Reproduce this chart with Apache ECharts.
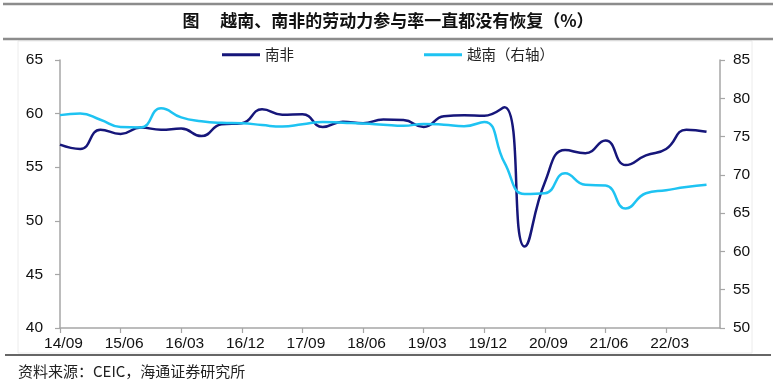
<!DOCTYPE html>
<html>
<head>
<meta charset="utf-8">
<script src="https://cdn.jsdelivr.net/npm/echarts@6/dist/echarts.min.js"></script>
<style>
html,body{margin:0;padding:0;background:#fff;}
#chart{width:777px;height:389px;}
</style>
</head>
<body>
<div id="chart"></div>
<script>
// Quarterly observations (YY/MM)
const quarterLabels = ['14/09','14/12','15/03','15/06','15/09','15/12','16/03','16/06','16/09','16/12',
  '17/03','17/06','17/09','17/12','18/03','18/06','18/09','18/12','19/03','19/06','19/09','19/12',
  '20/03','20/06','20/09','20/12','21/03','21/06','21/09','21/12','22/03','22/06','22/09'];
// 南非 (left axis)
const southAfrica = [57.1,56.7,58.5,58.1,58.7,58.5,58.6,57.9,59.0,59.1,
  60.4,59.9,59.95,58.75,59.25,59.1,59.45,59.4,58.75,59.75,59.85,59.8,
  60.6,47.6,53.6,56.6,56.3,57.5,55.2,56.1,56.7,58.5,58.3];
// 越南 (right axis)
const vietnam = [77.8,78.0,77.2,76.25,76.2,78.7,77.5,77.0,76.8,76.75,
  76.5,76.3,76.6,76.9,76.8,76.7,76.55,76.4,76.65,76.55,76.35,76.9,
  71.6,67.5,67.6,70.2,68.7,68.6,65.6,67.6,68.0,68.4,68.7];
// Axis tick labels shown
const tickLabels = ['14/09','15/06','16/03','16/12','17/09','18/06','19/03','19/12','20/09','21/06','22/03'];
const axisStart = '14/09', axisEnd = '22/11';
const seriesNames = ['南非','越南（右轴）'];

// monthly category axis
function buildMonths(a, b){
  let [ya, ma] = a.split('/').map(Number);
  const [yb, mb] = b.split('/').map(Number);
  const out = [];
  while (ya < yb || (ya === yb && ma <= mb)) {
    out.push(String(ya).padStart(2,'0') + '/' + String(ma).padStart(2,'0'));
    ma++; if (ma > 12) { ma = 1; ya++; }
  }
  return out;
}
const months = buildMonths(axisStart, axisEnd);
function toMonthly(vals){
  const arr = months.map(() => null);
  quarterLabels.forEach((q, i) => { const idx = months.indexOf(q); if (idx >= 0) arr[idx] = vals[i]; });
  return arr;
}
const showTick = (i) => tickLabels.indexOf(months[i]) >= 0;

const chart = echarts.init(document.getElementById('chart'));
const labelFont = {fontSize: 15.5, color: '#111', fontFamily: 'Liberation Sans, Arial, sans-serif'};
const axisColor = '#a6a6a6';
chart.setOption({
  animation: false,
  backgroundColor: '#fff',
  grid: {left: 60, right: 57, top: 60, bottom: 61, containLabel: false},
  legend: {
    data: seriesNames,
    left: 222, top: 47.5, padding: 0,
    icon: 'rect', itemWidth: 38, itemHeight: 3, itemGap: 130,
    textStyle: {fontSize: 14.5, color: '#222', fontFamily: 'Noto Sans CJK SC'}
  },
  xAxis: {
    type: 'category', data: months, boundaryGap: false,
    axisLine: {lineStyle: {color: axisColor, width: 1.5}},
    axisTick: {show: true, length: 5, interval: (i) => showTick(i), lineStyle: {color: axisColor, width: 1.2}},
    axisLabel: Object.assign({interval: (i) => showTick(i), margin: 8, padding: [0, 0, 0, 7]}, labelFont),
    splitLine: {show: false}
  },
  yAxis: [
    {type: 'value', min: 40, max: 65, interval: 5, position: 'left',
     axisLine: {show: true, lineStyle: {color: axisColor, width: 1.5}},
     axisTick: {show: true, length: 5, lineStyle: {color: axisColor, width: 1.2}},
     axisLabel: Object.assign({margin: 17}, labelFont),
     splitLine: {show: false}},
    {type: 'value', min: 50, max: 85, interval: 5, position: 'right',
     axisLine: {show: true, lineStyle: {color: axisColor, width: 1.5}},
     axisTick: {show: true, length: 5, lineStyle: {color: axisColor, width: 1.2}},
     axisLabel: Object.assign({margin: 13}, labelFont),
     splitLine: {show: false}}
  ],
  series: [
    {name: seriesNames[0], type: 'line', yAxisIndex: 0, data: toMonthly(southAfrica),
     connectNulls: true, smooth: 0.5, showSymbol: false, symbol: 'none',
     lineStyle: {color: '#16167a', width: 2.5}, itemStyle: {color: '#16167a'}},
    {name: seriesNames[1], type: 'line', yAxisIndex: 1, data: toMonthly(vietnam),
     connectNulls: true, smooth: 0.5, showSymbol: false, symbol: 'none',
     lineStyle: {color: '#1ec3f2', width: 2.5}, itemStyle: {color: '#1ec3f2'}}
  ],
  graphic: [
    {type: 'rect', shape: {x: 18, y: 41, width: 734, height: 312}, style: {fill: null, stroke: '#ececec', lineWidth: 1}, silent: true, z: -1},
    {type: 'line', shape: {x1: 3, y1: 4, x2: 773, y2: 4}, style: {stroke: '#8c8c8c', lineWidth: 2.5}},
    {type: 'line', shape: {x1: 3, y1: 39, x2: 773, y2: 39}, style: {stroke: '#8c8c8c', lineWidth: 2.5}},
    {type: 'text', x: 388, y: 21, style: {text: '图\u3000 越南、南非的劳动力参与率一直都没有恢复（%）', align: 'center', verticalAlign: 'middle',
      font: 'bold 17px "Noto Sans CJK SC"', fill: '#111'}},
    {type: 'line', shape: {x1: 5, y1: 355, x2: 771, y2: 355}, style: {stroke: '#333', lineWidth: 1.5}},
    {type: 'text', x: 18, y: 371, style: {text: '资料来源：CEIC，海通证券研究所', align: 'left', verticalAlign: 'middle',
      font: '15px "Noto Sans CJK SC"', fill: '#222'}}
  ]
});
</script>
</body>
</html>
